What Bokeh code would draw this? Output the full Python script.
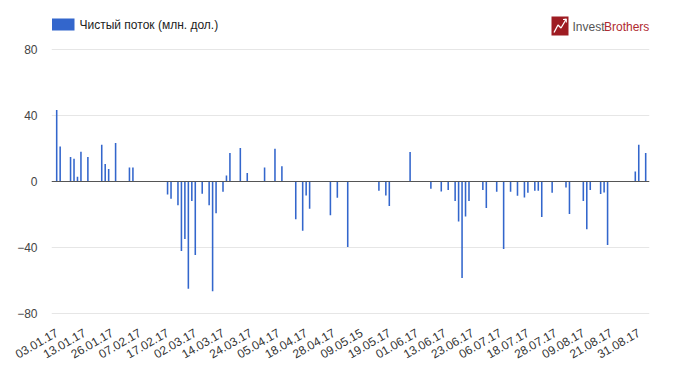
import math
from bokeh.plotting import figure
from bokeh.layouts import column
from bokeh.models import FixedTicker, Span, Range1d
from bokeh.core.properties import value
from bokeh.embed import file_html
from bokeh.resources import INLINE

# Net flow per trading day (mln USD), 03.01.17 ... 05.09.17
flows = [
    43.2, 21.2, 0, 0, 14.8, 13.8, 2.8, 18.0, 0, 14.8,
    0, 0, 0, 22.2, 10.6, 7.6, 0, 23.2, 0, 0,
    0, 8.4, 8.4, 0, 0, 0, 0, 0, 0, 0,
    0, 0, -7.8, -10.4, 0, -14.4, -42.0, -34.8, -64.8, -11.8,
    -44.4, 0, -7.4, 0, -14.4, -66.4, -19.2, 0, -6.2, 3.6,
    17.2, 0, 0, 20.2, 0, 5.2, 0, 0, 0, 0,
    8.4, 0, 0, 19.8, 0, 9.2, 0, 0, 0, -22.8,
    0, -29.8, -8.4, -16.4, 0, 0, 0, 0, 0, -20.4,
    0, -9.8, 0, 0, -39.6, 0, 0, 0, 0, 0,
    0, 0, 0, -5.6, 0, -8.4, -14.8, 0, 0, 0,
    0, 0, 17.8, 0, 0, 0, 0, 0, -4.4, 0,
    0, -6.0, 0, -5.2, 0, -11.8, -24.2, -58.4, -21.2, -11.8,
    0, 0, 0, -5.2, -16.0, 0, 0, -6.2, 0, -40.8,
    0, -6.2, 0, -8.6, 0, -9.6, -6.8, 0, -5.6, -5.6,
    -21.4, 0, 0, -6.8, 0, 0, 0, -3.6, -19.6, 0,
    0, 0, -11.8, -28.8, -5.2, 0, 0, -7.6, -6.6, -38.4,
    0, 0, 0, 0, 0, 0, 0, 6.0, 22.2, 0,
    17.2,
]

tick_labels = [
    "03.01.17", "13.01.17", "26.01.17", "07.02.17", "17.02.17", "02.03.17",
    "14.03.17", "24.03.17", "05.04.17", "18.04.17", "28.04.17", "09.05.15",
    "19.05.17", "01.06.17", "13.06.17", "23.06.17", "06.07.17", "18.07.17",
    "28.07.17", "09.08.17", "21.08.17", "31.08.17",
]
tick_positions = [0, 8, 16, 24, 32, 40, 48, 56, 64, 72, 80, 88, 96, 104,
                  112, 120, 128, 136, 144, 152, 160, 168]
y_ticks = [-80, -40, 0, 40, 80]
series_name = "Чистый поток (млн. дол.)"
brand_a = "Invest"
brand_b = "Brothers"

days = list(range(len(flows)))
FONT = "Liberation Sans"
BLUE = "#3366cc"
W = 672
LEFT, RIGHT = 51, 23

# ---------- header strip: legend + logo (pixel coordinates) ----------
# (the column layout aligns its frame with the chart frame below)
hdr = figure(width=W, height=38, output_backend="svg", toolbar_location=None,
             x_range=Range1d(LEFT, W - RIGHT), y_range=Range1d(38, 0),
             x_axis_location=None, y_axis_location=None,
             min_border_left=LEFT, min_border_right=RIGHT,
             min_border_top=0, min_border_bottom=0)
hdr.outline_line_color = None
hdr.xgrid.visible = False
hdr.ygrid.visible = False

hdr.quad(left=[51.5], right=[74], top=[18], bottom=[30], fill_color=BLUE,
         line_color=None)
hdr.text(x=[79], y=[24.5], text=[series_name], text_font=value(FONT),
         text_font_size="12px", text_color="#222222", text_baseline="middle")

hdr.quad(left=[551], right=[568], top=[16], bottom=[35], fill_color="#9e1c22",
         line_color=None)
hdr.line(x=[553.5, 557.5, 560.5, 565.5], y=[32, 24.5, 27.5, 19],
         line_color="white", line_width=1.3)
hdr.line(x=[562.5, 565.8, 565.8], y=[19, 18.6, 22], line_color="white",
         line_width=1.1)
hdr.text(x=[572], y=[26.5], text=[brand_a], text_font=value(FONT),
         text_font_size="12px", text_color="#555555", text_baseline="middle")
hdr.text(x=[603.5], y=[26.5], text=[brand_b], text_font=value(FONT),
         text_font_size="12px", text_color="#b02a30", text_baseline="middle")

# ---------- main chart ----------
p = figure(width=W, height=327, output_backend="svg", toolbar_location=None,
           x_range=Range1d(-1.5, 171.1), y_range=Range1d(-80.4, 80.4),
           min_border_left=LEFT, min_border_right=RIGHT, min_border_top=10,
           min_border_bottom=49)
p.outline_line_color = None

p.vbar(x=days, top=flows, bottom=0, width=0.45, fill_color=BLUE,
       line_color=None)

p.add_layout(Span(location=0, dimension="width", line_color="#555555",
                  line_width=1))

p.yaxis.ticker = FixedTicker(ticks=y_ticks)
p.yaxis.axis_line_color = None
p.yaxis.major_tick_line_color = None
p.yaxis.minor_tick_line_color = None
p.yaxis.major_label_text_font = FONT
p.yaxis.major_label_text_font_size = "12px"
p.yaxis.major_label_text_color = "#444444"
p.yaxis.major_label_standoff = 8
p.ygrid.ticker = FixedTicker(ticks=y_ticks)
p.ygrid.grid_line_color = "#e6e6e6"
p.xgrid.visible = False

p.xaxis.ticker = FixedTicker(ticks=tick_positions)
p.xaxis.major_label_overrides = {t: l for t, l in zip(tick_positions, tick_labels)}
p.xaxis.major_label_orientation = math.pi / 6
p.xaxis.axis_line_color = None
p.xaxis.major_tick_line_color = None
p.xaxis.minor_tick_line_color = None
p.xaxis.major_label_text_font = FONT
p.xaxis.major_label_text_font_size = "12px"
p.xaxis.major_label_text_color = "#333333"
p.xaxis.major_label_standoff = 11

layout = column(hdr, p, spacing=0)
open("out.html", "w").write(file_html(layout, INLINE))
